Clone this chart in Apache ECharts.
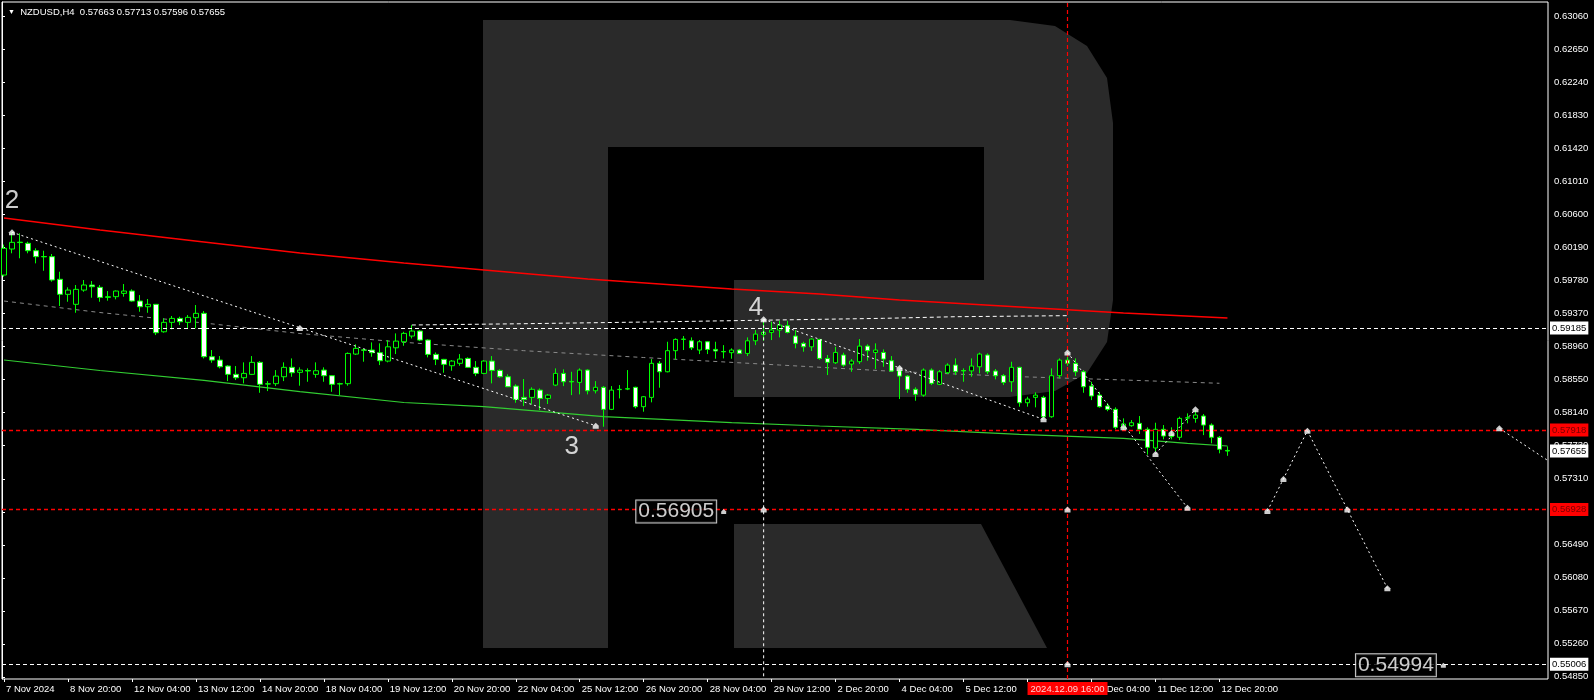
<!DOCTYPE html>
<html><head><meta charset="utf-8">
<script src="https://cdn.jsdelivr.net/npm/echarts@6/dist/echarts.min.js"></script>
<style>html,body{margin:0;padding:0;background:#000;}#c{width:1594px;height:700px;}</style>
</head><body><div id="c"></div>
<script>
// ---------- data ----------
const symbolTitle = 'NZDUSD,H4';
const titleQuote = '0.57663 0.57713 0.57596 0.57655';

const opens = [0.59842,0.60165,0.60250,0.60236,0.60144,0.60072,0.60070,0.59789,0.59602,0.59478,
0.59655,0.59718,0.59689,0.59564,0.59573,0.59614,0.59643,0.59519,0.59448,0.59478,
0.59137,0.59254,0.59303,0.59254,0.59312,0.59366,0.58827,0.58785,0.58711,0.58608,
0.58566,0.58608,0.58757,0.58490,0.58492,0.58578,0.58695,0.58633,0.58655,0.58608,
0.58661,0.58591,0.58492,0.58492,0.58860,0.58912,0.58910,0.58877,0.58773,0.58938,
0.59013,0.59084,0.59146,0.59034,0.58856,0.58794,0.58715,0.58745,0.58806,0.58695,
0.58620,0.58773,0.58657,0.58578,0.58462,0.58322,0.58322,0.58412,0.58309,0.58475,
0.58620,0.58520,0.58508,0.58661,0.58404,0.58447,0.58173,0.58418,0.58425,0.58447,
0.58206,0.58322,0.58745,0.58640,0.58902,0.59042,0.59025,0.58910,0.59013,0.58918,
0.58892,0.58877,0.58910,0.58868,0.59025,0.59104,0.59129,0.59158,0.59212,0.59084,
0.58993,0.58950,0.59042,0.58806,0.58752,0.58848,0.58736,0.58765,0.58959,0.58880,
0.58880,0.58777,0.58653,0.58586,0.58422,0.58350,0.58661,0.58484,0.58628,0.58723,
0.58655,0.58651,0.58702,0.58848,0.58649,0.58591,0.58516,0.58695,0.58255,0.58322,
0.58322,0.58081,0.58591,0.58785,0.58745,0.58640,0.58462,0.58350,0.58214,0.58173,
0.57950,0.57970,0.57999,0.57925,0.57693,0.57925,0.57842,0.57826,0.58065,0.58061,
0.58090,0.57978,0.57826,0.57663];
const highs = [0.60220,0.60373,0.60360,0.60256,0.60174,0.60144,0.60103,0.59883,0.59689,0.59718,
0.59780,0.59767,0.59718,0.59643,0.59650,0.59730,0.59664,0.59593,0.59544,0.59482,
0.59303,0.59333,0.59324,0.59345,0.59469,0.59395,0.58910,0.58835,0.58723,0.58711,
0.58757,0.58835,0.58773,0.58524,0.58661,0.58757,0.58806,0.58695,0.58682,0.58757,
0.58695,0.58599,0.58504,0.58880,0.58981,0.58923,0.59005,0.58993,0.59034,0.59117,
0.59137,0.59220,0.59158,0.59042,0.58880,0.58800,0.58785,0.58860,0.58819,0.58773,
0.58785,0.58835,0.58670,0.58608,0.58484,0.58550,0.58447,0.58433,0.58363,0.58682,
0.58670,0.58640,0.58682,0.58670,0.58524,0.58462,0.58462,0.58475,0.58661,0.58454,
0.58339,0.58798,0.58773,0.59013,0.59055,0.59084,0.59067,0.59034,0.59021,0.59013,
0.58971,0.58931,0.58922,0.59067,0.59158,0.59292,0.59262,0.59274,0.59274,0.59158,
0.59013,0.59055,0.59050,0.58848,0.58950,0.58877,0.58798,0.59046,0.58981,0.58993,
0.58918,0.58835,0.58682,0.58599,0.58447,0.58682,0.58682,0.58661,0.58745,0.58806,
0.58682,0.58806,0.58877,0.58868,0.58674,0.58612,0.58765,0.58702,0.58330,0.58384,
0.58342,0.58682,0.58806,0.58868,0.58806,0.58661,0.58516,0.58391,0.58250,0.58198,
0.58061,0.58040,0.58090,0.57950,0.58007,0.57978,0.57950,0.58082,0.58123,0.58164,
0.58115,0.57999,0.57842,0.57713];
const lows = [0.59820,0.60112,0.60050,0.60112,0.59987,0.59895,0.59759,0.59457,0.59510,0.59373,
0.59634,0.59560,0.59510,0.59523,0.59540,0.59573,0.59510,0.59386,0.59373,0.59096,
0.59125,0.59167,0.59220,0.59179,0.59179,0.58806,0.58752,0.58682,0.58524,0.58537,
0.58496,0.58599,0.58379,0.58400,0.58462,0.58524,0.58578,0.58467,0.58516,0.58566,
0.58516,0.58391,0.58350,0.58467,0.58848,0.58765,0.58827,0.58723,0.58757,0.58860,
0.58963,0.59054,0.59021,0.58819,0.58723,0.58628,0.58653,0.58715,0.58690,0.58586,
0.58610,0.58496,0.58566,0.58450,0.58255,0.58214,0.58235,0.58164,0.58239,0.58462,
0.58462,0.58350,0.58359,0.58359,0.58371,0.57957,0.58164,0.58309,0.58412,0.58185,
0.58144,0.58260,0.58442,0.58633,0.58794,0.58910,0.58910,0.58860,0.58860,0.58802,
0.58806,0.58802,0.58860,0.58835,0.58971,0.59025,0.59034,0.59067,0.59117,0.58931,
0.58889,0.58898,0.58790,0.58599,0.58736,0.58702,0.58640,0.58736,0.58777,0.58674,
0.58702,0.58640,0.58301,0.58379,0.58280,0.58330,0.58475,0.58475,0.58612,0.58599,
0.58516,0.58578,0.58620,0.58612,0.58546,0.58475,0.58391,0.58206,0.58206,0.58198,
0.58061,0.58069,0.58558,0.58715,0.58586,0.58379,0.58288,0.58194,0.58150,0.57925,
0.57915,0.57957,0.57867,0.57610,0.57650,0.57801,0.57801,0.57791,0.57999,0.58007,
0.57853,0.57751,0.57627,0.57596];
const closes = [0.60174,0.60248,0.60245,0.60144,0.60070,0.60068,0.59780,0.59602,0.59655,0.59664,
0.59718,0.59697,0.59564,0.59573,0.59643,0.59643,0.59519,0.59448,0.59478,0.59125,
0.59254,0.59303,0.59262,0.59316,0.59366,0.58827,0.58785,0.58702,0.58608,0.58566,
0.58620,0.58757,0.58484,0.58488,0.58586,0.58695,0.58628,0.58661,0.58650,0.58653,
0.58591,0.58484,0.58488,0.58868,0.58931,0.58908,0.58877,0.58777,0.58950,0.59021,
0.59117,0.59146,0.59034,0.58856,0.58794,0.58732,0.58773,0.58798,0.58695,0.58620,
0.58773,0.58657,0.58578,0.58454,0.58297,0.58297,0.58422,0.58309,0.58350,0.58620,
0.58516,0.58514,0.58661,0.58404,0.58447,0.58173,0.58412,0.58422,0.58430,0.58206,
0.58330,0.58745,0.58640,0.58902,0.59042,0.59046,0.58938,0.59013,0.58918,0.58898,
0.58888,0.58910,0.58868,0.59025,0.59108,0.59129,0.59158,0.59220,0.59129,0.58993,
0.58950,0.59046,0.58806,0.58757,0.58880,0.58723,0.58773,0.58959,0.58902,0.58910,
0.58798,0.58649,0.58586,0.58422,0.58360,0.58661,0.58496,0.58640,0.58723,0.58640,
0.58651,0.58711,0.58860,0.58640,0.58591,0.58508,0.58695,0.58255,0.58301,0.58350,
0.58081,0.58591,0.58785,0.58745,0.58640,0.58454,0.58339,0.58206,0.58173,0.57950,
0.57991,0.58007,0.57925,0.57701,0.57925,0.57842,0.57835,0.58061,0.58068,0.58103,
0.57978,0.57826,0.57677,0.57655];

const futureBars = 40;           // empty bars to the right of the last candle
const labelStep = 8;             // one time label every 8 bars
const timeLabels = ['7 Nov 2024','8 Nov 20:00','12 Nov 04:00','13 Nov 12:00','14 Nov 20:00',
  '18 Nov 04:00','19 Nov 12:00','20 Nov 20:00','22 Nov 04:00','25 Nov 12:00','26 Nov 20:00',
  '28 Nov 04:00','29 Nov 12:00','2 Dec 20:00','4 Dec 04:00','5 Dec 12:00','6 Dec 20:00',
  '10 Dec 04:00','11 Dec 12:00','12 Dec 20:00'];
const priceTicks = ['0.63060','0.62650','0.62240','0.61830','0.61420','0.61010','0.60600',
  '0.60190','0.59780','0.59370','0.58960','0.58550','0.58140','0.57730','0.57310','0.56900',
  '0.56490','0.56080','0.55670','0.55260','0.54850'];
const priceMin = 0.54823, priceMax = 0.63234;

// indicator lines [bar, price]
const redLine   = [[0,0.60550],[12,0.60401],[25,0.60252],[37,0.60116],[50,0.59992],[73,0.59792],
  [91,0.59668],[102,0.59606],[112,0.59531],[127,0.59445],[140,0.59370],[153,0.59308]];
const greenLine = [[0,0.58786],[12,0.58656],[25,0.58534],[37,0.58393],[50,0.58258],[60,0.58206],
  [75,0.58082],[91,0.58007],[102,0.57966],[114,0.57925],[127,0.57863],[140,0.57813],[148,0.57751],[153,0.57718]];
const grayLine  = [[0,0.59519],[12,0.59376],[25,0.59246],[37,0.59115],[50,0.59006],[65,0.58902],
  [80,0.58817],[97,0.58724],[112,0.58641],[127,0.58579],[140,0.58538],[152,0.58497]];
const upperLine = [[51,0.59221],[65,0.59237],[83,0.59262],[110,0.59304],[119,0.59324],[133,0.59337]];

// wave / forecast paths
const wavePaths = [
  [[1,0.60373],[74,0.57970]],
  [[95,0.59292],[130,0.58049]],
  [[133,0.58880],[148,0.56950]],
  [[144,0.57618],[149,0.58173]],
  [[158,0.56910],[163,0.57908],[173,0.55950]],
  [[187,0.57938],[193,0.57542]]
];
const verticalPath = [[95,0.59292],[95,priceMin]];
const waveMarkers = [[1,0.60373],[37,0.59185],[74,0.57970],[95,0.59292],[112,0.58688],[130,0.58049],
  [133,0.58880],[140,0.57950],[144,0.57618],[146,0.57880],[148,0.56950],[149,0.58173],
  [158,0.56910],[160,0.57309],[163,0.57908],[168,0.56929],[173,0.55950],[187,0.57938],
  [95,0.56928],[133,0.56928],[133,0.55006]];
const waveNumbers = [['2',1,0.60762],['3',71,0.57705],['4',94,0.59432]];
const priceLabels = [[90,0.56905],[180,0.54994]];

const levelWhite = [0.59185, 0.55006];
const levelRed = [0.57918, 0.56928];
const bidPrice = 0.57655;
const eventBar = 133, eventLabel = '2024.12.09 16:00';

// ---------- chart ----------
const nBars = opens.length + futureBars;
const categories = Array.from({length: nBars}, (_, i) => String(i));
const candles = opens.map((o, i) => [o, closes[i], lows[i], highs[i]]);
const FONT = 'Liberation Sans, Arial, sans-serif';
const markerPath = 'path://M3,0 L6,3 L6,6 L0,6 L0,3 Z';
const LOGO = '#2a2a2a';

const chart = echarts.init(document.getElementById('c'), null, {renderer: 'canvas'});
const series = [];

series.push({
  type: 'candlestick', xAxisIndex: 1, yAxisIndex: 1, barWidth: 5, z: 3,
  data: candles,
  itemStyle: {color: '#000', color0: '#fff', borderColor: '#00ff00', borderColor0: '#00ff00', borderWidth: 1},
  markLine: {
    silent: true, symbol: ['none','none'], animation: false, precision: 5,
    data: [{xAxis: String(eventBar)}],
    lineStyle: {color: '#ff0000', type: [4,3], width: 1.2},
    label: {show: true, position: 'start', formatter: eventLabel, color: '#ffd0d0', backgroundColor: '#ff0000',
      padding: [2,3,1,3], fontSize: 9.5, fontFamily: FONT, distance: 3}
  }
});
function lineSeries(data, color, width, type, z) {
  return {type: 'line', xAxisIndex: 1, yAxisIndex: 1, data, symbol: 'none', connectNulls: true, z: z || 2,
    lineStyle: {color, width, type}, silent: true, animation: false};
}
series.push(lineSeries(redLine, '#ff0000', 1.5, 'solid'));
series.push(lineSeries(greenLine, '#32cd32', 1.2, 'solid'));
series.push(lineSeries(grayLine, '#8a8a8a', 1, [4,4]));
series.push(lineSeries(upperLine, '#ffffff', 1, [4,3]));
wavePaths.forEach(p => series.push(lineSeries(p, '#ffffff', 1, [2,3], 4)));
series.push(lineSeries(verticalPath, '#ffffff', 1, [3,3], 4));
series.push({type: 'scatter', xAxisIndex: 1, yAxisIndex: 1, data: waveMarkers, symbol: markerPath,
  symbolSize: [6,6], itemStyle: {color: '#fff'}, z: 5, silent: true});
series.push({type: 'scatter', xAxisIndex: 1, yAxisIndex: 1, data: waveNumbers.map(d => [d[1], d[2], d[0]]),
  symbolSize: 0, z: 5, silent: true,
  label: {show: true, position: 'inside', formatter: p => p.data[2], color: '#fff', fontSize: 26, fontFamily: FONT}});
series.push({type: 'scatter', xAxisIndex: 1, yAxisIndex: 1, data: priceLabels, symbol: markerPath,
  symbolSize: [5,5], itemStyle: {color: '#fff'}, z: 6, silent: true,
  label: {show: true, position: 'left', distance: 5, formatter: p => p.data[1].toFixed(5), color: '#fff',
    fontSize: 21, fontFamily: FONT, backgroundColor: '#000', borderColor: '#fff', borderWidth: 1, padding: [1,2,0,2]}});

// level lines and axis price boxes on the frame grid
const levelData = [];
levelWhite.forEach(v => levelData.push({yAxis: v, lineStyle: {color: '#fff', type: [4,3], width: 1},
  label: {formatter: v.toFixed(5), color: '#000', backgroundColor: '#fff'}}));
levelRed.forEach(v => levelData.push({yAxis: v, lineStyle: {color: '#ff0000', type: [4,3], width: 1.3},
  label: {formatter: v.toFixed(5), color: '#7a0000', backgroundColor: '#ff0000'}}));
levelData.push({yAxis: bidPrice, lineStyle: {color: 'rgba(0,0,0,0)', width: 0},
  label: {formatter: bidPrice.toFixed(5), color: '#000', backgroundColor: '#fff'}});
series.push({type: 'line', xAxisIndex: 0, yAxisIndex: 0, data: [[0, bidPrice],[1, bidPrice]], symbol: 'none',
  lineStyle: {width: 0, color: 'rgba(0,0,0,0)'}, silent: true, z: 6,
  markLine: {silent: true, symbol: ['none','none'], animation: false, precision: 5, data: levelData,
    label: {show: true, position: 'end', distance: 2, padding: [2,2,1,2], fontSize: 9.5, fontFamily: FONT}}});

const bowl = [[608,20],[1010,20],[1055,26],[1087,46],[1107,78],[1113,123],[1113,300],[1107,342],
  [1087,373],[1055,391],[1010,397],[734,397],[734,280],[984,280],[984,147],[608,147]];

chart.setOption({
  backgroundColor: '#000',
  animation: false,
  textStyle: {fontFamily: FONT},
  title: {text: '{t|▼}  ' + symbolTitle + '  ' + titleQuote, left: 3, top: 2,
    textStyle: {color: '#fff', fontSize: 9.5, fontWeight: 'normal', fontFamily: FONT,
      rich: {t: {fontSize: 7, color: '#fff'}}}},
  graphic: [
    {type: 'rect', z: -10, shape: {x: 483, y: 20, width: 125, height: 628}, style: {fill: LOGO}},
    {type: 'polygon', z: -10, shape: {points: bowl}, style: {fill: LOGO}},
    {type: 'polygon', z: -10, shape: {points: [[734,524],[981,524],[1047,648],[734,648]]}, style: {fill: LOGO}}
  ],
  grid: [
    {left: 2, right: 46, top: 2, bottom: 21, show: true, borderColor: '#fff', borderWidth: 1, backgroundColor: 'transparent', z: 1},
    {left: -0.7, right: 42.7, top: 2, bottom: 21, show: false}
  ],
  xAxis: [
    {type: 'value', gridIndex: 0, min: 0, max: 1, show: false},
    {type: 'category', gridIndex: 1, data: categories, boundaryGap: true,
      axisLine: {show: false},
      axisTick: {show: true, alignWithLabel: true, length: 3, lineStyle: {color: '#fff'},
        interval: i => i % labelStep === 0 && i / labelStep < timeLabels.length},
      axisLabel: {show: true, color: '#fff', fontSize: 9.5, fontFamily: FONT, align: 'left', margin: 5,
        padding: [0,0,0,2],
        interval: i => i % labelStep === 0 && i / labelStep < timeLabels.length,
        formatter: (v, i) => timeLabels[Number(v) / labelStep] || ''},
      splitLine: {show: false}}
  ],
  yAxis: [
    {type: 'value', gridIndex: 0, position: 'right', min: priceMin, max: priceMax,
      axisLine: {show: true, lineStyle: {color: '#fff'}},
      axisTick: {show: true, length: 3, lineStyle: {color: '#fff'}, customValues: priceTicks.map(Number)},
      axisLabel: {show: true, color: '#fff', fontSize: 9.5, fontFamily: FONT, margin: 6,
        customValues: priceTicks.map(Number), formatter: v => v.toFixed(5)},
      splitLine: {show: false}},
    {type: 'value', gridIndex: 1, min: priceMin, max: priceMax, show: false, splitLine: {show: false}}
  ],
  series
});
</script>
</body></html>
